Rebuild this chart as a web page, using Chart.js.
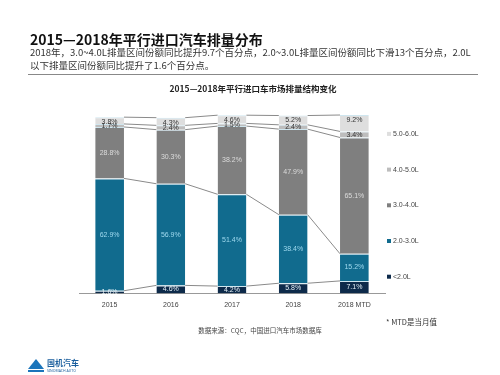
<!DOCTYPE html>
<html>
<head>
<meta charset="utf-8">
<script src="https://cdn.jsdelivr.net/npm/chart.js@4"></script>
<style>
  body { margin: 0; background: #fff; }
  #wrap { position: relative; width: 500px; height: 375px; overflow: hidden; font-family: "Noto Sans CJK SC", "Noto Sans", sans-serif; }
  #graph { position: absolute; left: 0; top: 0; }
  .t { position: absolute; white-space: nowrap; }
  #head { left: 30px; top: 29px; font-size: 14px; font-weight: bold; color: #111; }
  #sub { left: 30px; top: 46px; font-size: 9.5px; line-height: 13px; color: #333; }
  #rule { position: absolute; left: 28px; top: 74px; width: 450px; height: 1px; background: #888; }
  #ctitle { left: 0; width: 506px; text-align: center; top: 82px; font-size: 8.5px; font-weight: bold; color: #222; }
  #src { left: 0; width: 520px; text-align: center; top: 325px; font-size: 6.5px; color: #444; }
  #mtd { left: 386px; top: 316px; font-size: 7.5px; color: #333; }
  #logo { left: 28px; top: 354px; }
</style>
</head>
<body>
<div id="wrap">
  <canvas id="graph" width="500" height="375"></canvas>
  <div class="t" id="head">2015—2018年平行进口汽车排量分布</div>
  <div class="t" id="sub">2018年，3.0~4.0L排量区间份额同比提升9.7个百分点，2.0~3.0L排量区间份额同比下滑13个百分点，2.0L<br>以下排量区间份额同比提升了1.6个百分点。</div>
  <div id="rule"></div>
  <div class="t" id="ctitle">2015—2018年平行进口车市场排量结构变化</div>
  <div class="t" id="src">数据来源：CQC，中国进口汽车市场数据库</div>
  <div class="t" id="mtd">* MTD是当月值</div>
  <div class="t" id="logo">
    <svg width="60" height="16" viewBox="0 0 60 16">
      <polygon points="0,12 8,2 16,12" fill="#1b75bb"/>
      <rect x="0" y="13" width="16" height="2" fill="#1b75bb"/>
      <text x="19" y="9" font-size="8" font-weight="bold" fill="#1b5f9e" font-family="Noto Sans CJK SC">国机汽车</text>
      <text x="19" y="15" font-size="3.5" fill="#1b5f9e" font-family="Noto Sans">SINOMACH AUTO</text>
    </svg>
  </div>
</div>
<script>
const years = ['2015', '2016', '2017', '2018', '2018 MTD'];
const under2 = [1.6, 4.6, 4.2, 5.8, 7.1];
const from2to3 = [62.9, 56.9, 51.4, 38.4, 15.2];
const from3to4 = [28.8, 30.3, 38.2, 47.9, 65.1];
const from4to5 = [1.7, 2.4, 1.5, 2.4, 3.4];
const from5to6 = [3.8, 4.3, 4.6, 5.2, 9.2];

// lines joining the top of each segment to the same segment on the next bar
const seriesLines = {
  id: 'seriesLines',
  beforeDatasetsDraw(chart) {
    const c = chart.ctx;
    c.save();
    c.strokeStyle = '#8a8a8a';
    c.lineWidth = 1;
    chart.data.datasets.forEach((ds, d) => {
      const bars = chart.getDatasetMeta(d).data;
      for (let i = 0; i < bars.length - 1; i++) {
        const a = bars[i], b = bars[i + 1];
        c.beginPath();
        c.moveTo(a.x + a.width / 2, a.y);
        c.lineTo(b.x - b.width / 2, b.y);
        c.stroke();
      }
    });
    c.restore();
  }
};

const segLabels = {
  id: 'segLabels',
  afterDatasetsDraw(chart) {
    const c = chart.ctx;
    c.save();
    c.font = '7px "Liberation Sans", sans-serif';
    c.textAlign = 'center';
    c.textBaseline = 'middle';
    chart.data.datasets.forEach((ds, d) => {
      chart.getDatasetMeta(d).data.forEach((bar, i) => {
        const v = ds.data[i];
        let y = (bar.y + bar.base) / 2;
        if (d === 4) y = bar.y + 5;          // 5.0-6.0 label near the top
        if (d === 3) y = (bar.y + bar.base) / 2 + 0.5;
        c.fillStyle = ds.labelColor;
        c.fillText(v.toFixed(1) + '%', bar.x, y);
      });
    });
    c.restore();
  }
};

// legend column on the right, largest size band on top
const sideLegend = {
  id: 'sideLegend',
  afterDraw(chart) {
    const c = chart.ctx;
    const area = chart.chartArea;
    const sets = chart.data.datasets.slice().reverse();
    const step = 35.7;
    const y0 = (area.top + area.bottom) / 2 + 1 - step * (sets.length - 1) / 2;
    c.save();
    c.font = '7px "Liberation Sans", sans-serif';
    c.textBaseline = 'middle';
    sets.forEach((ds, k) => {
      const y = y0 + k * step;
      c.fillStyle = ds.backgroundColor;
      c.fillRect(area.right + 2, y - 2, 4, 4);
      c.fillStyle = '#444';
      c.fillText(ds.label, area.right + 8, y);
    });
    c.restore();
  }
};

const ctx = document.getElementById('graph').getContext('2d');
new Chart(ctx, {
  type: 'bar',
  data: {
    labels: years,
    datasets: [
      { label: '<2.0L', data: under2, backgroundColor: '#0d2a4a', labelColor: '#e6f2f8' },
      { label: '2.0-3.0L', data: from2to3, backgroundColor: '#116b8e', labelColor: '#9fd9ee' },
      { label: '3.0-4.0L', data: from3to4, backgroundColor: '#7f7f7f', labelColor: '#dcdcdc' },
      { label: '4.0-5.0L', data: from4to5, backgroundColor: '#bdbdbd', labelColor: '#333' },
      { label: '5.0-6.0L', data: from5to6, backgroundColor: '#dedede', labelColor: '#333' }
    ].map(ds => Object.assign(ds, {
      borderColor: '#cfe6ef',
      borderWidth: { top: 1, bottom: 0, left: 0, right: 0 },
      barPercentage: 0.47,
      categoryPercentage: 1
    }))
  },
  options: {
    responsive: false,
    animation: false,
    layout: { padding: { left: 79, right: 115, top: 115, bottom: 59 } },
    scales: {
      x: {
        stacked: true,
        grid: { display: false, drawTicks: false },
        border: { color: '#999', width: 1 },
        ticks: { color: '#444', font: { size: 7, family: 'Liberation Sans' }, padding: 7 }
      },
      y: {
        stacked: true,
        display: false,
        min: 0,
        max: 100
      }
    },
    plugins: {
      legend: { display: false },
      tooltip: { enabled: false }
    }
  },
  plugins: [seriesLines, segLabels, sideLegend]
});
</script>
</body>
</html>
